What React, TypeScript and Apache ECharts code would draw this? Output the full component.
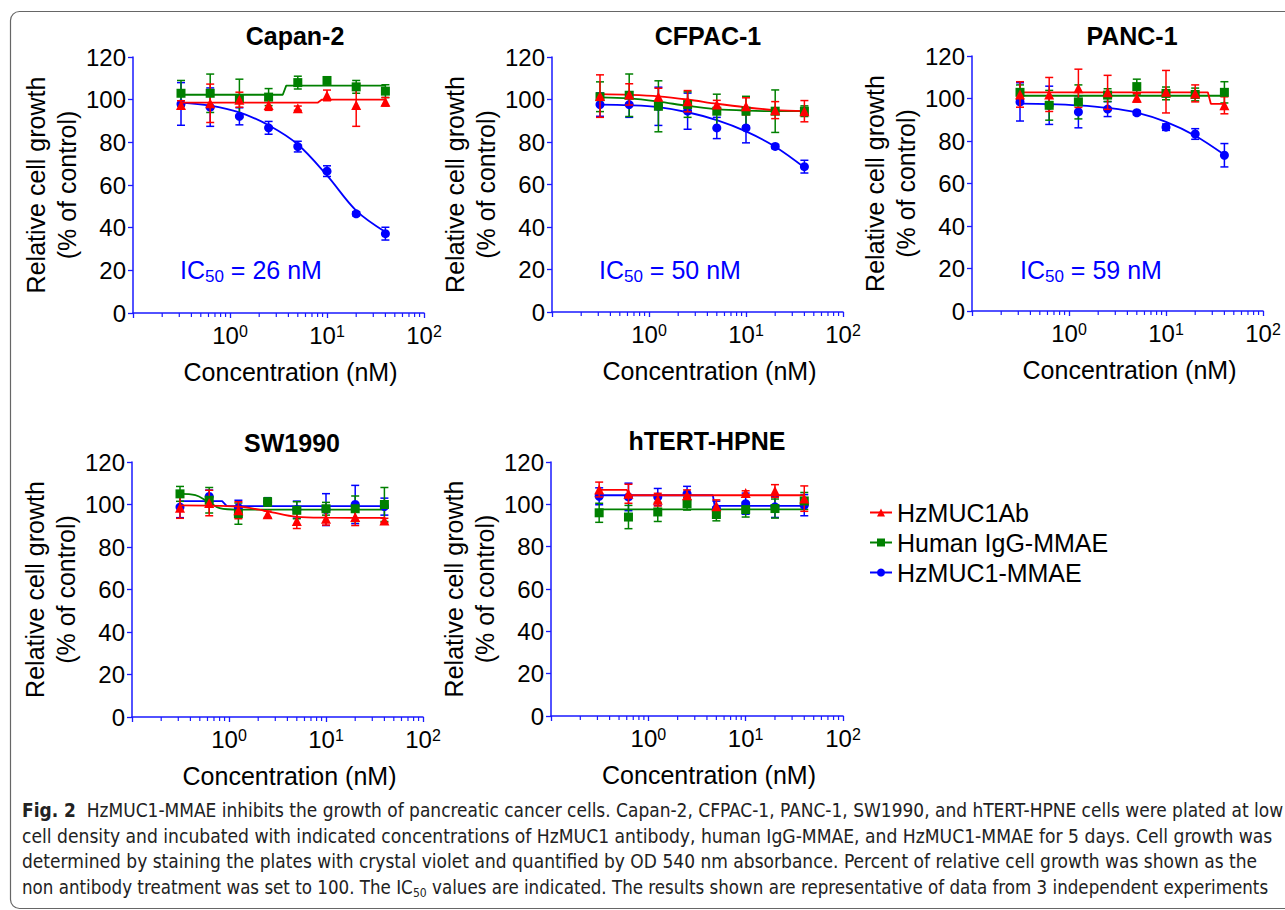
import React, { useEffect, useRef } from "react";
import * as echarts from "echarts";

// ---------- data ----------
const concentrations = [0.3125, 0.625, 1.25, 2.5, 5, 10, 20, 40];
const minorTickValues = [0.2, 0.3, 0.4, 0.5, 0.6, 0.7, 0.8, 0.9, 2, 3, 4, 5, 6, 7, 8, 9, 20, 30, 40, 50, 60, 70, 80, 90];
const panelTitles = ["Capan-2", "CFPAC-1", "PANC-1", "SW1990", "hTERT-HPNE"];
const ic50Values = ["26", "50", "59"];
const seriesNames = ["HzMUC1Ab", "Human IgG-MMAE", "HzMUC1-MMAE"];

// Capan-2
const capanAbMean = [97.5, 98.3, 100, 97.5, 96, 102, 97.5, 99];
const capanAbErr = [2, 9, 3.5, 2.5, 1, 2.5, 10, 2];
const capanAbFit = [[0.3125, 98.6], [8, 98.6], [8.8, 100], [40, 100]];
const capanIggMean = [103, 103, 100.6, 101.2, 108, 109, 106, 104];
const capanIggErr = [6, 9, 9, 4, 3, 1.5, 3, 3];
const capanIggFit = [[0.3125, 102.3], [3.5, 102.3], [3.8, 106.6], [40, 106.6]];
const capanMmaeMean = [98, 96.5, 92.2, 86.8, 78, 66.5, 46.5, 37.2];
const capanMmaeErr = [10, 9, 4, 3, 2.5, 2.5, 1, 3];
const capanMmaeFit = [[0.3125, 98.6], [0.625, 97.2], [1.25, 94], [2.5, 88], [5, 79], [10, 64.5], [20, 48], [40, 38]];

// CFPAC-1
const cfpacAbMean = [101.6, 102.4, 101.3, 99.2, 97.6, 96.8, 95, 94.5];
const cfpacAbErr = [10, 5, 4, 5, 2, 4, 4, 5];
const cfpacAbFit = [[0.3125, 102.5], [0.625, 102.2], [1.25, 101.5], [2.5, 100], [5, 98], [10, 96.3], [20, 95], [40, 94.5]];
const cfpacIggMean = [101.3, 102, 96.8, 97.6, 94.5, 94.5, 94.5, 94.5];
const cfpacIggErr = [7, 10, 12, 6, 8, 7, 10, 2.5];
const cfpacIggFit = [[0.3125, 101], [0.625, 100.5], [1.25, 99], [2.5, 97], [5, 95.5], [10, 94.8], [20, 94.5], [40, 94.5]];
const cfpacMmaeMean = [97.6, 97.6, 96.8, 94.5, 86.6, 86.6, 77.9, 68.4];
const cfpacMmaeErr = [5.5, 6, 9, 8.5, 5, 7, 1, 3];
const cfpacMmaeFit = [[0.3125, 97.6], [0.625, 97.3], [1.25, 96.4], [2.5, 94], [5, 90.3], [10, 85], [20, 77.8], [40, 68]];

// PANC-1
const pancAbMean = [101.9, 101.9, 104.8, 102.9, 100.3, 103.2, 102.4, 96.8];
const pancAbErr = [6, 8, 9, 8, 2, 10, 4, 4];
const pancAbFit = [[0.3125, 102.9], [27, 102.9], [29, 97.5], [40, 97.5]];
const pancIggMean = [102.9, 96.8, 98.4, 101.6, 105.6, 102.4, 101.9, 102.9];
const pancIggErr = [3.5, 7, 8, 3, 3.5, 3, 3, 5];
const pancIggFit = [[0.3125, 101.3], [40, 101.3]];
const pancMmaeMean = [98.4, 96.8, 93.7, 95, 93.3, 86.5, 83.3, 73.3];
const pancMmaeErr = [9, 9, 7.5, 3.5, 1, 1.5, 2.5, 5.5];
const pancMmaeFit = [[0.3125, 97.6], [0.625, 97.4], [1.25, 96.8], [2.5, 95.6], [5, 93.4], [10, 89], [20, 82.5], [40, 73.5]];

// SW1990
const swAbMean = [98.5, 100.7, 97.3, 95.4, 92.2, 93.3, 94.1, 92.5];
const swAbErr = [5, 6, 4, 1.5, 3.5, 3, 4, 1];
const swAbFit = [[0.3125, 99.6], [1.25, 99], [2.5, 96.8], [5, 94.2], [10, 93.8], [40, 93.7]];
const swIggMean = [105, 102, 95.7, 101.2, 97.3, 98, 98, 100];
const swIggErr = [3.5, 6, 5, 2, 4, 3, 6, 8];
const swIggFit = [[0.3125, 105], [0.45, 104.4], [0.6, 101.5], [0.8, 98.3], [1.25, 97.6], [40, 97.6]];
const swMmaeMean = [98.8, 103.8, 98.5, 101.2, 97.6, 97.6, 100, 99];
const swMmaeErr = [5, 3, 3.5, 2, 4, 7.5, 9, 4];
const swMmaeFit = [[0.3125, 101.6], [0.85, 101.6], [0.95, 99.2], [40, 99.2]];

// hTERT-HPNE
const hpneAbMean = [107, 105, 102.2, 104.3, 99.1, 105.4, 106.3, 102.7];
const hpneAbErr = [3.5, 4.5, 3, 2.5, 3, 1, 3, 6];
const hpneAbFit = [[0.3125, 106.8], [0.6, 106.8], [0.65, 104.3], [40, 104.3]];
const hpneIggMean = [96, 94, 96.4, 100.3, 95.2, 97.5, 98, 101.6];
const hpneIggErr = [4.5, 5.5, 4.5, 3, 3, 3.5, 4.5, 4];
const hpneIggFit = [[0.3125, 97.6], [40, 97.6]];
const hpneMmaeMean = [103.8, 103.5, 103.5, 105, 98, 100.3, 98.8, 99.6];
const hpneMmaeErr = [4, 6.5, 4, 3.5, 3.5, 5, 5, 5];
const hpneMmaeFit = [[0.3125, 104.3], [4.6, 104.3], [4.8, 99.3], [40, 99.3]];

const captionLines = [
  "{b|Fig. 2}  HzMUC1-MMAE inhibits the growth of pancreatic cancer cells. Capan-2, CFPAC-1, PANC-1, SW1990, and hTERT-HPNE cells were plated at low",
  "cell density and incubated with indicated concentrations of HzMUC1 antibody, human IgG-MMAE, and HzMUC1-MMAE for 5 days. Cell growth was",
  "determined by staining the plates with crystal violet and quantified by OD 540 nm absorbance. Percent of relative cell growth was shown as the",
  "non antibody treatment was set to 100. The IC{sub|50} values are indicated. The results shown are representative of data from 3 independent experiments",
];

// ---------- layout / style ----------
const FONT = '"Liberation Sans", Arial, sans-serif';
const CAPTION_FONT = '"Liberation Sans Narrow", "DejaVu Sans Condensed", sans-serif';
const COLORS = ["#ff0000", "#008000", "#0000ff"];
const SYMBOLS = ["triangle", "rect", "circle"];
const SYMBOL_SIZES = [10, 9, 9];
const AXIS_BLUE = "#1a1aff";

const grids = [
  { left: 133, top: 57, width: 291, height: 256 },
  { left: 552, top: 57, width: 291, height: 255 },
  { left: 972, top: 56, width: 291, height: 255 },
  { left: 132, top: 462, width: 291, height: 255 },
  { left: 551, top: 462, width: 292, height: 254 },
];
const titlePos = [[295, 36], [708, 36], [1132, 36], [292, 443], [707, 441]];
const icPos = [[180, 270], [599, 270], [1020, 270]];
const captionTop = [810, 836, 861, 887];
const captionWidths = [1253, 1251, 1236, 1254];

const panelData = [
  [[capanAbMean, capanAbErr, capanAbFit], [capanIggMean, capanIggErr, capanIggFit], [capanMmaeMean, capanMmaeErr, capanMmaeFit]],
  [[cfpacAbMean, cfpacAbErr, cfpacAbFit], [cfpacIggMean, cfpacIggErr, cfpacIggFit], [cfpacMmaeMean, cfpacMmaeErr, cfpacMmaeFit]],
  [[pancAbMean, pancAbErr, pancAbFit], [pancIggMean, pancIggErr, pancIggFit], [pancMmaeMean, pancMmaeErr, pancMmaeFit]],
  [[swAbMean, swAbErr, swAbFit], [swIggMean, swIggErr, swIggFit], [swMmaeMean, swMmaeErr, swMmaeFit]],
  [[hpneAbMean, hpneAbErr, hpneAbFit], [hpneIggMean, hpneIggErr, hpneIggFit], [hpneMmaeMean, hpneMmaeErr, hpneMmaeFit]],
];

function measure(text: string, font: string): number {
  const c = document.createElement("canvas").getContext("2d");
  if (!c) return 1;
  c.font = font;
  return c.measureText(text).width;
}

function buildOption() {
  const series: any[] = [];
  const xAxes: any[] = [];
  const yAxes: any[] = [];

  grids.forEach((_, p) => {
    xAxes.push({
      type: "log",
      logBase: 10,
      gridIndex: p,
      min: 0.1,
      max: 100,
      axisLine: { lineStyle: { color: AXIS_BLUE, width: 1.5 } },
      axisTick: { show: true, length: 5, lineStyle: { color: AXIS_BLUE, width: 1.3 } },
      splitLine: { show: false },
      axisLabel: {
        margin: 10,
        color: "#000",
        fontSize: 24,
        fontFamily: FONT,
        formatter: (v: number) => (v < 0.5 ? "" : "10{sup|" + Math.round(Math.log10(v)) + "}"),
        rich: {
          sup: { fontSize: 16, fontFamily: FONT, color: "#000", verticalAlign: "top", lineHeight: 16, padding: [0, 0, 6, 0] },
        },
      },
      name: "Concentration (nM)",
      nameLocation: "middle",
      nameGap: 46,
      nameTextStyle: { fontSize: 25, color: "#000", fontFamily: FONT, padding: [0, 0, 0, 24] },
    });
    yAxes.push({
      type: "value",
      gridIndex: p,
      min: 0,
      max: 120,
      interval: 20,
      axisLine: { show: true, lineStyle: { color: AXIS_BLUE, width: 1.5 } },
      axisTick: { show: true, length: 5, lineStyle: { color: AXIS_BLUE, width: 1.3 } },
      splitLine: { show: false },
      axisLabel: { margin: 7, color: "#000", fontSize: 24, fontFamily: FONT },
      name: "Relative cell growth\n(% of control)",
      nameLocation: "middle",
      nameGap: 48,
      nameTextStyle: { fontSize: 25, color: "#000", fontFamily: FONT, lineHeight: 31 },
    });

    // minor ticks
    series.push({
      type: "custom",
      name: "minor-" + p,
      xAxisIndex: p,
      yAxisIndex: p,
      data: minorTickValues.map((v) => [v, 0]),
      silent: true,
      clip: false,
      renderItem: (params: any, api: any) => {
        const pt = api.coord([api.value(0), 0]);
        return {
          type: "line",
          shape: { x1: pt[0], y1: pt[1], x2: pt[0], y2: pt[1] + 4 },
          style: { stroke: AXIS_BLUE, lineWidth: 1.2 },
        };
      },
    });

    // order: blue, green, red (red on top)
    [2, 1, 0].forEach((s) => {
      const [mean, err, fit] = panelData[p][s];
      const color = COLORS[s];
      const z = 3 + (2 - s);
      series.push({
        type: "line",
        name: `fit-${p}-${s}`,
        xAxisIndex: p,
        yAxisIndex: p,
        data: fit,
        symbol: "none",
        showSymbol: false,
        smooth: fit.length > 4 ? 0.35 : false,
        lineStyle: { color, width: 1.8 },
        itemStyle: { color },
        z,
        silent: true,
      });
      series.push({
        type: "custom",
        name: `err-${p}-${s}`,
        xAxisIndex: p,
        yAxisIndex: p,
        data: concentrations.map((x, i) => [x, mean[i] - err[i], mean[i] + err[i]]),
        encode: { x: 0, y: [1, 2] },
        z,
        silent: true,
        renderItem: (params: any, api: any) => {
          const x = api.value(0);
          const lo = api.coord([x, api.value(1)]);
          const hi = api.coord([x, api.value(2)]);
          const w = 4;
          const style = { stroke: color, lineWidth: 1.5 };
          return {
            type: "group",
            children: [
              { type: "line", shape: { x1: lo[0], y1: lo[1], x2: hi[0], y2: hi[1] }, style },
              { type: "line", shape: { x1: hi[0] - w, y1: hi[1], x2: hi[0] + w, y2: hi[1] }, style },
              { type: "line", shape: { x1: lo[0] - w, y1: lo[1], x2: lo[0] + w, y2: lo[1] }, style },
            ],
          };
        },
      });
      series.push({
        type: "scatter",
        name: `pts-${p}-${s}`,
        xAxisIndex: p,
        yAxisIndex: p,
        data: concentrations.map((x, i) => [x, mean[i]]),
        symbol: SYMBOLS[s],
        symbolSize: SYMBOL_SIZES[s],
        itemStyle: { color, opacity: 1 },
        z: z + 1,
        silent: true,
      });
    });
  });

  // legend dummy series
  seriesNames.forEach((name, s) => {
    series.push({
      type: "line",
      name,
      xAxisIndex: 0,
      yAxisIndex: 0,
      data: [],
      symbol: SYMBOLS[s],
      symbolSize: 8,
      lineStyle: { color: COLORS[s], width: 2 },
      itemStyle: { color: COLORS[s] },
    });
  });

  const graphics: any[] = [];
  graphics.push({
    type: "rect",
    shape: { x: 10.5, y: 11.5, width: 1300, height: 897, r: 9 },
    style: { fill: "none", stroke: "#666", lineWidth: 1.2 },
    silent: true,
  });
  panelTitles.forEach((t, i) => {
    graphics.push({
      type: "text",
      x: titlePos[i][0],
      y: titlePos[i][1],
      style: { text: t, fontSize: 25, fontWeight: "bold", fontFamily: FONT, fill: "#000", align: "center", verticalAlign: "middle" },
    });
  });
  ic50Values.forEach((v, i) => {
    graphics.push({
      type: "text",
      x: icPos[i][0],
      y: icPos[i][1],
      style: {
        text: "IC{sub|50} = " + v + " nM",
        fontSize: 25,
        fontFamily: FONT,
        fill: "#0000ff",
        align: "left",
        verticalAlign: "middle",
        lineHeight: 30,
        rich: {
          sub: { fontSize: 17, fontFamily: FONT, fill: "#0000ff", color: "#0000ff", verticalAlign: "bottom", lineHeight: 17, padding: [8, 0, 0, 0] },
        },
      },
    });
  });
  const capFontSize = 20;
  captionLines.forEach((line, i) => {
    const plain = line.replace(/\{\w+\|([^}]*)\}/g, "$1");
    const wdt = measure(plain, `${capFontSize}px ${CAPTION_FONT}`);
    const sx = wdt > 0 ? captionWidths[i] / wdt : 1;
    graphics.push({
      type: "text",
      x: 22,
      y: captionTop[i],
      scaleX: sx,
      style: {
        text: line,
        fontSize: capFontSize,
        fontFamily: CAPTION_FONT,
        fill: "#222",
        align: "left",
        verticalAlign: "middle",
        lineHeight: 24,
        rich: {
          b: { fontWeight: "bold", fontSize: capFontSize, fontFamily: CAPTION_FONT, fill: "#222", color: "#222" },
          sub: { fontSize: 13, fontFamily: CAPTION_FONT, fill: "#222", color: "#222", verticalAlign: "bottom", lineHeight: 13, padding: [10, 0, 0, 0] },
        },
      },
    });
  });

  return {
    animation: false,
    backgroundColor: "#fff",
    textStyle: { fontFamily: FONT },
    grid: grids.map((g) => ({ ...g, containLabel: false })),
    xAxis: xAxes,
    yAxis: yAxes,
    legend: {
      data: seriesNames,
      orient: "vertical",
      left: 864,
      top: 495,
      itemWidth: 22,
      itemHeight: 10,
      itemGap: 5,
      textStyle: { fontSize: 25, color: "#000", fontFamily: FONT },
      selectedMode: false,
    },
    series,
    graphic: graphics,
  };
}

export default function App() {
  const ref = useRef<HTMLDivElement>(null);
  useEffect(() => {
    if (!ref.current) return;
    const chart = echarts.init(ref.current, undefined, { renderer: "svg" });
    chart.setOption(buildOption() as any);
    return () => chart.dispose();
  }, []);
  return (
    <div
      ref={ref}
      style={{ position: "absolute", left: 0, top: 0, width: 1285, height: 910, background: "#fff" }}
    />
  );
}
